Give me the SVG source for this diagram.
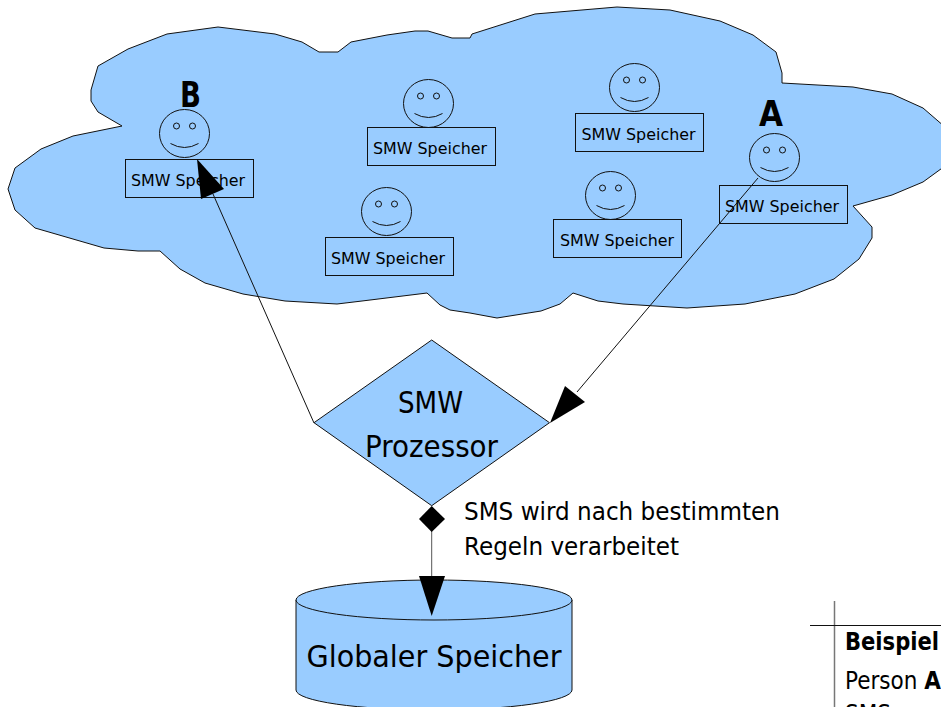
<svg xmlns="http://www.w3.org/2000/svg" width="941" height="707" viewBox="0 0 941 707">
<style>
text{font-family:"DejaVu Sans",sans-serif;fill:#000}
.s{fill:#99ccff;stroke:#111;stroke-width:1}
.b{fill:none;stroke:#111;stroke-width:1}
.l{font-size:16.5px}
.m{font-size:31px}
.t{font-size:24px}
.k{font-size:35px;font-weight:bold}
.h{fill:#000;stroke:none}
</style>
<defs>
<g id="face"><ellipse rx="25" ry="24" class="b"/><circle cx="-8" cy="-7.5" r="3" class="b"/><circle cx="8" cy="-7.5" r="3" class="b"/><path d="M-14 10Q0 18 14 10" class="b"/></g>
<rect id="box" width="128" height="38" class="b"/>
</defs>
<rect width="941" height="707" fill="#fff"/>
<g id="cloud"><polygon class="s" points="98,66 128,49 167,34 218,27 275,34 302,42 319,52 338,52 351,42 387,35 415,31 428,31 452,38 470,38 472,34 535,14 617,7 670,10 720,21 753,35 776,52 782,73 782,83 853,87 892,94 923,108 945,127 945,166 923,182 892,195 853,206 872,227 872,238 859,259 834,279 795,294 745,304 687,308 623,304 598,301 573,293 560,304 541,311 497,318 470,313 450,310 440,305 427,293 362,301 337,304 285,301 243,294 205,283 180,269 160,251 138,251 104,248 35,228 15,210 8,189 15,168 41,149 73,136 122,126 98,112 91,101 91,90"/></g>
<g id="person-b"><use href="#face" x="184.5" y="133.5"/><use href="#box" x="125.5" y="159.5"/><text class="l" x="131" y="186" textLength="114" lengthAdjust="spacingAndGlyphs">SMW Speicher</text><text class="k" x="180" y="107" textLength="21" lengthAdjust="spacingAndGlyphs">B</text></g>
<g id="person-2"><use href="#face" x="428.5" y="103.5"/><use href="#box" x="367.5" y="127.5"/><text class="l" x="373" y="154" textLength="114" lengthAdjust="spacingAndGlyphs">SMW Speicher</text></g>
<g id="person-3"><use href="#face" x="386.5" y="211.5"/><use href="#box" x="325.5" y="237.5"/><text class="l" x="331" y="264" textLength="114" lengthAdjust="spacingAndGlyphs">SMW Speicher</text></g>
<g id="person-4"><use href="#face" x="634.5" y="87.5"/><use href="#box" x="575.5" y="113.5"/><text class="l" x="581.5" y="140" textLength="114" lengthAdjust="spacingAndGlyphs">SMW Speicher</text></g>
<g id="person-5"><use href="#face" x="610.5" y="195.5"/><use href="#box" x="553.5" y="219.5"/><text class="l" x="560" y="246" textLength="114" lengthAdjust="spacingAndGlyphs">SMW Speicher</text></g>
<g id="person-a"><use href="#face" x="774.5" y="157.5"/><use href="#box" x="719.5" y="185.5"/><text class="l" x="725" y="212" textLength="114" lengthAdjust="spacingAndGlyphs">SMW Speicher</text><text class="k" x="759" y="126" textLength="24" lengthAdjust="spacingAndGlyphs">A</text></g>
<g id="prozessor"><polygon class="s" points="431.7,340 549.5,422.7 431.7,505.7 314,422.7"/><text class="m" x="398" y="413" textLength="65" lengthAdjust="spacingAndGlyphs">SMW</text><text class="m" x="365" y="457" textLength="133" lengthAdjust="spacingAndGlyphs">Prozessor</text></g>
<g id="speicher"><path class="s" d="M296 600V690A138 20 0 0 0 572 690V600Z"/><ellipse class="s" cx="434" cy="600" rx="138" ry="20"/><text class="m" x="306.5" y="667" textLength="255" lengthAdjust="spacingAndGlyphs">Globaler Speicher</text></g>
<g id="connectors">
<path class="b" d="M758 178L577 392M213 194L314 423"/>
<path d="M431.7 531V577" fill="none" stroke="#555" stroke-width="1"/>
<polygon class="h" points="550,423 565,386 585,402"/>
<polygon class="h" points="197,159 201,199 224,189"/>
<polygon class="h" points="431.7,506 445,519 431.7,532 419,519"/>
<polygon class="h" points="419,576 445,576 431.7,616"/>
</g>
<g id="label"><text class="t" x="464" y="520" textLength="316" lengthAdjust="spacingAndGlyphs">SMS wird nach bestimmten</text><text class="t" x="464" y="555" textLength="215" lengthAdjust="spacingAndGlyphs">Regeln verarbeitet</text></g>
<g id="legend"><path d="M834.5 601V707" stroke="#777" stroke-width="1.5" fill="none"/><path d="M810 625.5H941" stroke="#111" fill="none"/><text class="t" x="845" y="650" font-weight="bold" textLength="94" lengthAdjust="spacingAndGlyphs">Beispiel</text><text class="t" x="845" y="689" textLength="96" lengthAdjust="spacingAndGlyphs">Person <tspan font-weight="bold">A</tspan></text><text class="t" x="845" y="722" textLength="46" lengthAdjust="spacingAndGlyphs">SMS</text></g>
</svg>
